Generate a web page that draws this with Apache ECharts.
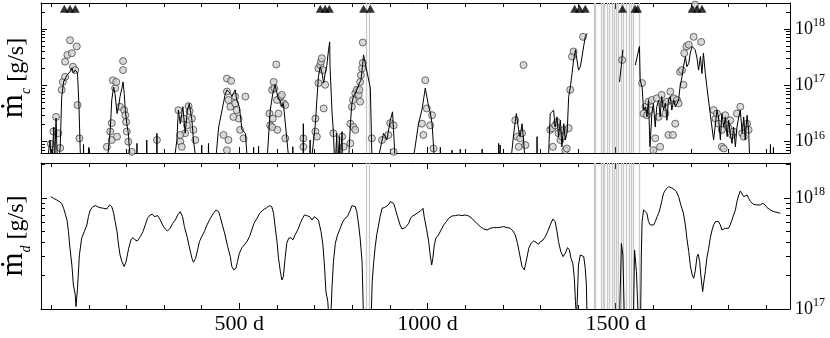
<!DOCTYPE html>
<html>
<head>
<meta charset="utf-8">
<title>mass accretion</title>
<script src="https://cdn.jsdelivr.net/npm/echarts@6/dist/echarts.min.js"></script>
<style>
html, body { margin: 0; padding: 0; background: #fff; }
#chart { width: 830px; height: 338px; }
</style>
</head>
<body>
<div id="chart"></div>
<script>
// x: days, y: log10 of the rate in g/s
const mcObs = [
  [-1,15.96],[6,16.18],[13,16.44],[19,16.15],[24,15.89],[28,16.92],[31,17.06],[37,17.15],[37,17.42],[43,17.54],[50,17.80],[55,17.57],[58,17.33],[64,17.27],[68,17.69],[70,16.65],[75,16.06],
  [148,15.91],[157,16.18],[161,16.33],[164,17.09],[170,16.95],[173,17.06],[161,16.03],[175,16.09],[183,16.62],[191,17.43],[191,17.27],[194,16.56],[197,16.47],[199,16.35],[201,16.18],[205,16.00],[214,15.82],
  [281,16.03],[338,16.56],[343,16.00],[347,15.91],[352,16.41],[356,16.15],[361,16.29],[365,16.63],[368,16.54],[374,16.41],[378,16.21],[383,16.03],[343,16.12],
  [458,16.12],[467,17.12],[478,17.08],[467,16.89],[471,16.74],[476,16.62],[489,16.80],[489,16.68],[493,16.56],[498,16.41],[502,16.21],[511,16.06],[516,16.80],[484,16.44],[467,15.85],[471,16.03],
  [598,17.37],[591,17.06],[587,16.92],[580,16.50],[582,16.29],[601,16.21],[604,16.50],[593,16.95],[600,16.74],[609,16.80],[613,16.83],[617,16.68],[622,16.65],[589,16.41],[587,16.26],[622,16.06],
  [670,16.06],[670,15.91],[702,16.41],[702,16.18],[706,16.09],[710,17.04],[710,17.30],[715,17.36],[717,17.42],[719,17.48],[722,17.27],[724,16.59],[728,17.01],[750,16.15],[773,16.09],[777,15.91],
  [795,16.32],[803,16.26],[808,16.21],[799,16.62],[795,15.97],[802,16.74],[808,16.86],[812,16.92],[817,16.83],[819,16.92],[821,17.06],[823,17.18],[826,17.30],[828,17.40],[828,17.76],[821,16.71],
  [852,16.06],[879,16.03],[896,16.12],[901,16.33],[910,16.29],[910,15.82],
  [985,16.32],[989,16.12],[994,17.09],[998,16.59],[1012,16.47],[1007,16.29],[1016,15.88],
  [1233,16.38],[1238,16.09],[1242,15.91],[1246,16.06],[1251,16.15],[1255,17.36],[1260,15.94],[1326,16.21],
  [1331,16.24],[1333,15.91],[1339,16.29],[1344,16.35],[1348,16.15],[1353,16.03],[1357,16.09],[1362,16.21],[1366,15.85],[1370,15.88],[1375,16.24],[1379,16.92],[1384,17.51],[1388,17.60],[1413,17.86],
  [1517,17.45],[1570,17.04],[1574,16.50],[1579,16.62],[1583,16.47],[1587,16.71],[1591,16.56],[1596,16.74],[1600,15.85],[1605,16.06],[1609,16.77],[1614,16.44],[1618,15.91],[1622,16.83],[1627,16.68],[1632,16.50],
  [1636,16.71],[1640,16.12],[1645,16.89],[1649,16.74],[1654,16.77],[1658,16.32],[1652,16.12],[1663,16.74],[1667,16.68],[1671,17.24],[1676,17.27],[1680,17.01],[1682,17.57],[1688,17.69],[1694,17.72],[1707,17.86],[1711,18.43],[1727,17.77],
  [1760,16.56],[1765,16.41],[1769,16.50],[1773,16.32],[1782,16.21],[1782,15.91],[1787,15.88],[1791,16.47],[1796,16.29],[1800,16.24],[1804,16.38],[1809,16.12],[1813,16.18],[1822,16.50],[1831,16.62],[1836,16.15],[1840,16.09],[1844,16.26],[1849,16.32],[1853,16.21]
];

// model curve for the upper panel, null = gap
const mcModel = [
  [-13,15.5],[-3,16.03],[1,15.5],[7,16.26],[9,15.5],[13,16.42],[17,15.5],[24,15.90],[28,16.79],[33,17.06],[42,17.18],[50,17.24],[55,17.31],[59,17.22],[64,17.27],[70,17.22],[74,16.61],[77,15.90],[79,15.5],
  [85,15.5],[86,15.95],[87,15.5],[99,15.5],[100,15.9],[101,15.5],
  [147,15.5],[157,16.21],[161,16.74],[166,16.97],[170,16.83],[175,16.50],[179,16.62],[183,16.80],[188,16.95],[191,17.06],[194,16.86],[197,16.56],[201,16.32],[205,16.15],[212,15.5],
  [227,15.5],[228,15.97],[229,15.5],[253,15.5],[254,16.03],[255,15.5],[280,15.5],[281,16.15],[282,15.5],
  [324,15.5],[334,16.03],[338,16.56],[343,16.32],[350,16.62],[356,16.15],[362,16.56],[367,16.68],[374,16.38],[378,16.03],[388,15.5],
  [399,15.5],[400,15.94],[401,15.5],[417,15.5],[418,15.97],[419,15.5],
  [435,15.5],[445,16.26],[454,16.56],[462,16.83],[467,16.92],[476,16.86],[480,16.80],[489,16.92],[493,16.74],[500,16.62],[507,16.21],[516,16.15],[523,15.5],
  [537,15.5],[538,15.9],[539,15.5],[550,15.5],[551,15.92],[552,15.5],
  [572,15.5],[582,16.56],[589,16.86],[595,17.01],[602,16.80],[609,16.71],[613,16.62],[617,16.68],[626,16.06],[634,15.5],
  [641,15.5],[642,15.91],[643,15.5],[669,15.5],[670,16.32],[671,15.5],[687,15.5],[688,16.03],[689,15.5],
  [692,15.5],[702,16.32],[706,16.74],[710,17.15],[715,17.33],[719,17.24],[724,17.04],[728,17.21],[732,17.33],[737,17.63],[740,17.77],[741,17.33],[746,16.56],[750,16.15],[754,15.5],
  [758,15.5],[759,16.15],[760,15.5],[765,15.5],[766,16.09],[767,15.5],[772,15.5],[773,16.18],[774,15.5],
  [789,15.5],[795,16.32],[799,16.68],[803,16.80],[808,16.86],[814,16.95],[819,17.04],[823,17.09],[826,17.27],[830,17.54],[832,17.57],[848,16.95],[853,15.5],
  [863,15.5],[883,16.15],[892,16.03],[901,16.38],[907,16.53],[912,15.91],[915,15.5],
  [958,15.5],[976,16.32],[985,16.56],[994,16.95],[1003,16.62],[1007,16.53],[1012,16.32],[1016,15.91],[1019,15.5],
  [1033,15.5],[1034,15.9],[1035,15.5],[1064,15.5],[1065,15.85],[1066,15.5],[1086,15.5],[1087,15.87],[1088,15.5],[1144,15.5],[1145,15.87],[1146,15.5],
  [1188,15.5],[1189,15.97],[1190,15.5],[1192,15.5],[1193,15.94],[1194,15.5],
  [1219,15.5],[1229,16.15],[1236,16.50],[1242,16.21],[1246,16.09],[1251,16.32],[1255,16.03],[1261,15.5],
  [1290,15.5],[1291,16.09],[1292,15.5],
  [1320,15.5],[1326,16.50],[1335,16.56],[1339,16.26],[1344,16.44],[1348,16.09],[1353,16.38],[1357,15.91],[1362,16.32],[1366,16.03],[1371,16.17],[1375,16.80],[1379,16.95],[1384,17.21],[1388,17.45],[1393,17.63],[1401,17.27],[1406,17.33],[1419,17.86],[1424,17.92],
  null,
  [1510,17.06],[1515,17.36],[1519,17.63],
  null,
  [1552,17.36],[1563,17.69],[1565,17.09],[1570,16.97],[1574,16.56],[1579,16.62],[1583,16.44],[1587,16.74],[1591,15.91],[1596,16.50],[1600,16.68],[1605,16.26],[1609,16.62],[1614,16.74],[1618,16.44],[1622,16.80],
  [1627,16.56],[1632,16.68],[1636,16.38],[1640,16.74],[1645,16.80],[1649,16.56],[1654,16.74],[1658,16.62],[1663,16.68],[1667,16.74],[1671,16.98],[1676,17.15],[1680,17.33],[1685,17.51],[1689,17.33],[1694,17.39],
  [1698,17.57],[1703,17.69],[1707,17.72],[1711,17.63],[1716,17.48],[1720,17.27],[1725,17.51],[1729,17.21],[1733,17.57],[1738,17.21],[1742,16.98],[1751,16.50],[1760,16.03],[1765,16.03],[1769,16.56],[1773,16.44],
  [1778,16.03],[1782,16.50],[1787,16.26],[1791,16.44],[1796,16.09],[1800,16.38],[1804,16.15],[1809,15.97],[1813,16.26],[1818,15.91],[1822,16.26],[1827,16.44],[1831,16.56],[1836,16.15],[1840,16.44],[1844,16.03],
  [1849,16.47],[1853,16.21],[1857,15.5],
  [1910,15.5],[1911,15.95],[1912,15.5],[1918,15.5],[1919,15.9],[1920,15.5]
];

// lower panel curve, null = gap
const mdModel = [
  [-1,18.012],[6,17.997],[11,18.012],[15,17.982],[22,17.967],[28,17.952],[33,17.907],[37,17.862],[42,17.802],[46,17.697],[50,17.547],[55,17.397],[59,17.217],[64,17.127],[66,17.022],[70,17.187],
  [75,17.487],[81,17.637],[88,17.697],[95,17.757],[99,17.832],[104,17.892],[111,17.922],[117,17.931],[123,17.922],[130,17.913],[139,17.907],[148,17.901],[155,17.937],[161,17.922],[166,17.862],[170,17.787],
  [175,17.697],[179,17.577],[183,17.487],[188,17.427],[194,17.382],[199,17.427],[206,17.547],[212,17.622],[217,17.643],[223,17.622],[229,17.613],[237,17.652],[244,17.697],[250,17.757],[256,17.817],[263,17.847],
  [269,17.853],[274,17.832],[279,17.817],[283,17.841],[290,17.802],[296,17.757],[303,17.721],[309,17.703],[316,17.727],[323,17.772],[330,17.802],[336,17.847],[343,17.877],[349,17.832],[354,17.742],[361,17.652],
  [367,17.562],[374,17.457],[378,17.421],[384,17.457],[389,17.532],[394,17.607],[400,17.652],[407,17.697],[414,17.757],[423,17.817],[431,17.862],[438,17.892],[445,17.877],[449,17.832],[455,17.757],[462,17.667],
  [469,17.562],[476,17.472],[480,17.382],[485,17.352],[491,17.367],[495,17.427],[500,17.502],[507,17.553],[513,17.577],[520,17.607],[527,17.652],[533,17.712],[539,17.772],[547,17.817],[554,17.862],[560,17.883],
  [567,17.901],[573,17.913],[580,17.931],[586,17.922],[591,17.862],[595,17.742],[600,17.607],[604,17.457],[609,17.337],[613,17.262],[617,17.292],[622,17.472],[626,17.592],[631,17.637],[637,17.643],[642,17.622],
  [648,17.667],[655,17.712],[662,17.772],[668,17.817],[673,17.847],[679,17.841],[687,17.832],[693,17.802],[699,17.832],[704,17.847],[710,17.802],[717,17.697],[722,17.577],[726,17.397],[730,17.157],[733,17.172],
  [735,17.067],[738,16.9],[744,17.007],[746,17.187],[750,17.427],[755,17.592],[761,17.667],[768,17.727],[775,17.787],[781,17.817],[787,17.832],[795,17.892],[799,17.931],[803,17.937],[808,17.922],[812,17.877],
  [817,17.757],[821,17.637],[826,17.427],[830,16.9],[850,16.9],[853,17.247],[857,17.427],[861,17.562],[865,17.667],[870,17.757],[874,17.832],[879,17.907],[885,17.913],[890,17.922],[896,17.937],[901,17.967],
  [905,17.973],[910,17.952],[914,17.907],[919,17.847],[923,17.802],[927,17.757],[932,17.721],[936,17.721],[941,17.733],[945,17.742],[950,17.772],[954,17.811],[958,17.832],[963,17.847],[972,17.862],[981,17.883],
  [985,17.901],[988,17.907],[991,17.832],[997,17.727],[1003,17.607],[1007,17.487],[1011,17.397],[1014,17.457],[1018,17.577],[1022,17.637],[1029,17.667],[1036,17.712],[1043,17.757],[1050,17.787],[1056,17.817],[1065,17.838],
  [1074,17.841],[1082,17.847],[1091,17.841],[1100,17.847],[1109,17.838],[1113,17.847],[1118,17.817],[1124,17.793],[1131,17.772],[1140,17.742],[1149,17.721],[1158,17.712],[1167,17.727],[1175,17.733],[1184,17.733],[1193,17.736],
  [1202,17.742],[1211,17.733],[1220,17.727],[1227,17.703],[1233,17.667],[1239,17.592],[1245,17.487],[1251,17.382],[1257,17.352],[1262,17.427],[1269,17.547],[1275,17.592],[1282,17.613],[1288,17.601],[1295,17.583],[1300,17.607],
  [1307,17.622],[1313,17.652],[1319,17.697],[1326,17.757],[1333,17.811],[1339,17.787],[1344,17.697],[1348,17.607],[1354,17.517],[1360,17.472],[1366,17.502],[1372,17.553],[1377,17.532],[1381,17.457],[1386,17.412],[1390,17.277],
  [1393,17.067],[1396,16.9],[1399,16.9],[1401,17.397],[1406,17.487],[1410,17.502],[1415,17.472],[1419,17.367],[1422,17.217],[1424,16.9],
  null,
  [1510,16.9],[1515,17.59],[1519,17.487],[1523,16.9],
  null,
  [1547,16.9],[1550,17.53],[1555,17.337],[1560,16.9],[1566,16.9],[1568,17.487],[1570,17.787],[1574,17.892],[1578,17.892],[1583,17.862],[1587,17.787],[1592,17.757],[1596,17.742],[1601,17.757],[1605,17.787],[1610,17.832],
  [1614,17.862],[1618,17.907],[1623,17.982],[1627,18.042],[1634,18.081],[1641,18.102],[1647,18.093],[1654,18.081],[1661,18.057],[1667,18.012],[1673,17.937],[1680,17.862],[1685,17.757],[1689,17.637],[1694,17.517],[1698,17.397],
  [1703,17.307],[1707,17.277],[1711,17.337],[1716,17.472],[1719,17.493],[1723,17.427],[1726,17.307],[1731,17.157],[1733,17.217],[1738,17.337],[1742,17.457],[1747,17.547],[1751,17.637],[1756,17.712],[1760,17.757],[1765,17.787],
  [1769,17.793],[1773,17.787],[1778,17.757],[1782,17.712],[1787,17.703],[1791,17.727],[1796,17.742],[1800,17.727],[1804,17.757],[1809,17.802],[1813,17.847],[1818,17.892],[1822,17.967],[1827,18.027],[1831,18.063],[1835,18.057],
  [1840,18.012],[1844,17.997],[1849,18.027],[1853,17.997],[1858,17.967],[1866,17.943],[1875,17.937],[1884,17.937],[1891,17.952],[1897,17.937],[1902,17.913],[1911,17.892],[1920,17.877],[1928,17.871],[1937,17.862]
];

// flagged days (grey verticals) and event epochs (triangles)
const flagDays = [837, 844, 1442, 1446, 1462, 1466, 1470, 1478, 1482, 1490, 1496, 1502, 1508, 1514, 1521, 1529, 1535, 1541, 1546, 1562];
const epochDays = [35, 50, 64, 715, 728, 739, 830, 848, 1391, 1404, 1419, 1518, 1551, 1558, 1703, 1716, 1729];
const epochRow = 18.36;

// ticks
const dayTicks = [0, 100, 200, 300, 400, 500, 600, 700, 800, 900, 1000, 1100, 1200, 1300, 1400, 1500, 1600, 1700, 1800, 1900];
const dayLabels = [500, 1000, 1500];
const topDecades = [16, 17, 18];
const botDecades = [17, 18];
const minorFactors = [2, 3, 4, 5, 6, 7, 8, 9];

const dayMin = -27, dayMax = 1963;
const topMin = 15.8, topMax = 18.46;
const botMin = 17.0, botMax = 18.315;

const FONT = '"Liberation Serif", "DejaVu Serif", serif';

function minorTicks(lo, hi) {
  const out = [];
  for (let n = Math.floor(lo); n <= Math.ceil(hi); n++) {
    minorFactors.forEach(f => {
      const v = n + Math.log10(f);
      if (v > lo && v < hi) out.push(v);
    });
  }
  return out;
}

const asLine = arr => arr.map(p => p ? p : ['-', '-']);

function xAx(grid, pos, ticks, len, line, labels) {
  return {
    type: 'value', gridIndex: grid, position: pos, min: dayMin, max: dayMax,
    axisLine: { show: line, onZero: false, lineStyle: { color: '#000', width: 1 } },
    axisTick: { show: true, inside: true, length: len, customValues: ticks, lineStyle: { color: '#000', width: 1 } },
    axisLabel: labels ? {
      show: true, customValues: labels, formatter: v => v + ' d',
      fontFamily: FONT, fontSize: 22, color: '#000', margin: 4
    } : { show: false },
    splitLine: { show: false }
  };
}

function yAx(grid, pos, lo, hi, ticks, len, line, extra) {
  return Object.assign({
    type: 'value', gridIndex: grid, position: pos, min: lo, max: hi,
    axisLine: { show: line, onZero: false, lineStyle: { color: '#000', width: 1 } },
    axisTick: { show: true, inside: true, length: len, customValues: ticks, lineStyle: { color: '#000', width: 1 } },
    axisLabel: { show: false },
    splitLine: { show: false }
  }, extra || {});
}

const powLabel = decades => ({
  show: true, customValues: decades, margin: 5,
  formatter: v => '{b|10}{s|' + v + '}',
  rich: {
    b: { fontFamily: FONT, fontSize: 18, lineHeight: 18, color: '#000', verticalAlign: 'bottom' },
    s: { fontFamily: FONT, fontSize: 12, lineHeight: 12, color: '#000', verticalAlign: 'bottom', padding: [0, 0, 9, 0] }
  }
});

const nameStyle = {
  rich: {
    m: { fontFamily: FONT, fontSize: 31, color: '#000', verticalAlign: 'bottom', padding: [0, 0, 4, 0] },
    c: { fontFamily: FONT, fontSize: 14, fontStyle: 'italic', color: '#000', verticalAlign: 'bottom' },
    u: { fontFamily: FONT, fontSize: 24, color: '#000', verticalAlign: 'bottom', padding: [0, 0, 4, 0] }
  }
};

function flagSeries(xi, yi) {
  return {
    type: 'line', xAxisIndex: xi, yAxisIndex: yi, data: [], z: 1, silent: true,
    markLine: {
      z: 1, silent: true, symbol: ['none', 'none'], animation: false,
      label: { show: false },
      lineStyle: { color: '#c8c8c8', width: 1.3, type: 'solid' },
      emphasis: { disabled: true },
      data: flagDays.map(d => ({ xAxis: d }))
    }
  };
}

const chart = echarts.init(document.getElementById('chart'), null, { renderer: 'canvas' });

chart.setOption({
  animation: false,
  backgroundColor: '#fff',
  grid: [
    { left: 41, right: 40, top: 3, height: 150, outerBoundsMode: 'none', containLabel: false },
    { left: 41, right: 40, top: 163, height: 146, outerBoundsMode: 'none', containLabel: false }
  ],
  xAxis: [
    xAx(0, 'bottom', dayTicks, 4, true, null),
    xAx(0, 'top', dayTicks, 4, true, null),
    xAx(0, 'bottom', dayLabels, 6, false, null),
    xAx(0, 'top', dayLabels, 6, false, null),
    xAx(1, 'bottom', dayTicks, 4, true, dayLabels),
    xAx(1, 'top', dayTicks, 4, true, null),
    xAx(1, 'bottom', dayLabels, 6, false, null),
    xAx(1, 'top', dayLabels, 6, false, null)
  ],
  yAxis: [
    yAx(0, 'left', topMin, topMax, topDecades, 6, true, {
      name: '{m|ṁ}{c|c}{u| [g/s]}', nameLocation: 'middle', nameRotate: 90, nameGap: 8, nameTextStyle: nameStyle
    }),
    yAx(0, 'left', topMin, topMax, minorTicks(topMin, topMax), 4, false),
    yAx(0, 'right', topMin, topMax, topDecades, 6, true, { axisLabel: powLabel(topDecades) }),
    yAx(0, 'right', topMin, topMax, minorTicks(topMin, topMax), 4, false),
    yAx(1, 'left', botMin, botMax, botDecades, 6, true, {
      name: '{m|ṁ}{c|d}{u| [g/s]}', nameLocation: 'middle', nameRotate: 90, nameGap: 8, nameTextStyle: nameStyle
    }),
    yAx(1, 'left', botMin, botMax, minorTicks(botMin, botMax), 4, false),
    yAx(1, 'right', botMin, botMax, botDecades, 6, true, { axisLabel: powLabel(botDecades) }),
    yAx(1, 'right', botMin, botMax, minorTicks(botMin, botMax), 4, false)
  ],
  series: [
    flagSeries(0, 0),
    flagSeries(4, 4),
    {
      name: 'observed', type: 'scatter', xAxisIndex: 0, yAxisIndex: 0, z: 2,
      symbol: 'circle', symbolSize: 7,
      itemStyle: { color: '#cfcfcf', borderColor: '#222', borderWidth: 0.8 },
      data: mcObs
    },
    {
      name: 'mc model', type: 'line', xAxisIndex: 0, yAxisIndex: 0, z: 3,
      showSymbol: false, symbol: 'none', connectNulls: false, clip: true,
      lineStyle: { color: '#000', width: 1 },
      data: asLine(mcModel)
    },
    {
      name: 'epochs', type: 'scatter', xAxisIndex: 0, yAxisIndex: 0, z: 5,
      symbol: 'triangle', symbolSize: [9, 8],
      itemStyle: { color: '#000' },
      data: epochDays.map(d => [d, epochRow])
    },
    {
      name: 'md model', type: 'line', xAxisIndex: 4, yAxisIndex: 4, z: 3,
      showSymbol: false, symbol: 'none', connectNulls: false, clip: true,
      lineStyle: { color: '#000', width: 1 },
      data: asLine(mdModel)
    }
  ]
});
</script>
</body>
</html>
